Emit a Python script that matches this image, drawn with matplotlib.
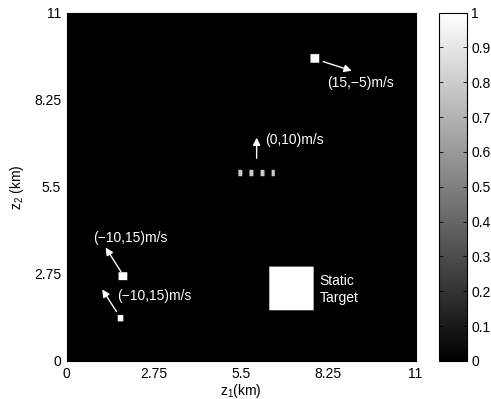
import numpy as np
import matplotlib
matplotlib.use("Agg")
import matplotlib.pyplot as plt

plt.rcParams['font.family'] = ['Liberation Sans', 'DejaVu Sans']
plt.rcParams['font.size'] = 10
plt.rcParams['mathtext.fontset'] = 'custom'
plt.rcParams['mathtext.rm'] = 'Liberation Sans'

# targets on the grid (km): centre x, centre y, width, height, intensity
obj_x = [7.81, 1.76, 1.69, 7.08, 5.47, 5.81, 6.17, 6.50]
obj_y = [9.53, 2.67, 1.35, 2.29, 5.92, 5.92, 5.92, 5.92]
obj_w = [0.27, 0.26, 0.19, 1.39, 0.12, 0.12, 0.12, 0.12]
obj_h = [0.27, 0.24, 0.20, 1.37, 0.19, 0.19, 0.19, 0.19]
obj_v = [1.0, 1.0, 1.0, 1.0, 0.8, 0.8, 0.8, 0.8]

# velocity arrows (km): tail -> head
arr_x0 = [8.09, 5.99, 1.71, 1.57]
arr_y0 = [9.45, 6.40, 2.82, 1.56]
arr_x1 = [8.99, 5.99, 1.23, 1.12]
arr_y1 = [9.16, 7.05, 3.58, 2.26]

# annotations
lab_text = ['(15,\u22125)m/s', '(0,10)m/s', '(\u221210,15)m/s', '(\u221210,15)m/s', 'Static\nTarget']
lab_x = [8.22, 6.25, 0.84, 1.60, 7.97]
lab_y = [8.77, 6.98, 3.87, 2.05, 2.26]

ticks = [0, 2.75, 5.5, 8.25, 11]
tick_labels = ['0', '2.75', '5.5', '8.25', '11']
cb_ticks = np.round(np.arange(0, 1.01, 0.1), 1)

# build intensity map
n = 440
c = (np.arange(n) + 0.5) * 11 / n
X, Y = np.meshgrid(c, c)
img = np.zeros((n, n))
for x, y, w, h, v in zip(obj_x, obj_y, obj_w, obj_h, obj_v):
    m = (np.abs(X - x) <= w / 2) & (np.abs(Y - y) <= h / 2)
    img[m] = v

fig = plt.figure(figsize=(4.91, 3.99), dpi=100)
ax = fig.add_axes([66.7 / 491, 38 / 399, 348.8 / 491, 348.5 / 399])
im = ax.imshow(img, cmap='gray', vmin=0, vmax=1, origin='lower',
               extent=[0, 11, 0, 11], interpolation='bilinear', aspect='auto')

for x0, y0, x1, y1 in zip(arr_x0, arr_y0, arr_x1, arr_y1):
    ax.annotate('', xy=(x1, y1), xytext=(x0, y0),
                arrowprops=dict(arrowstyle='-|>', color='white', lw=1,
                                mutation_scale=11, shrinkA=0, shrinkB=0))

for t, x, y in zip(lab_text, lab_x, lab_y):
    ax.text(x, y, t, color='white', ha='left', va='center', linespacing=1.3)

ax.set_xlim(0, 11)
ax.set_ylim(0, 11)
ax.set_xticks(ticks)
ax.set_xticklabels(tick_labels)
ax.set_yticks(ticks)
ax.set_yticklabels(tick_labels)
ax.tick_params(direction='in', length=0, pad=4)
ax.set_xlabel(r'$\mathregular{z_1}$(km)', labelpad=1)
ax.set_ylabel(r'$\mathregular{z_2}$ (km)', labelpad=6)

cax = fig.add_axes([439 / 491, 38 / 399, 28 / 491, 348.5 / 399])
cb = fig.colorbar(im, cax=cax, ticks=cb_ticks)
cb.ax.set_yticklabels([f'{v:g}' for v in cb_ticks])
cb.ax.tick_params(direction='in', length=3, width=0.6, left=True, right=True, pad=3)
cb.outline.set_linewidth(0.8)

fig.savefig('out.png', dpi=100)
